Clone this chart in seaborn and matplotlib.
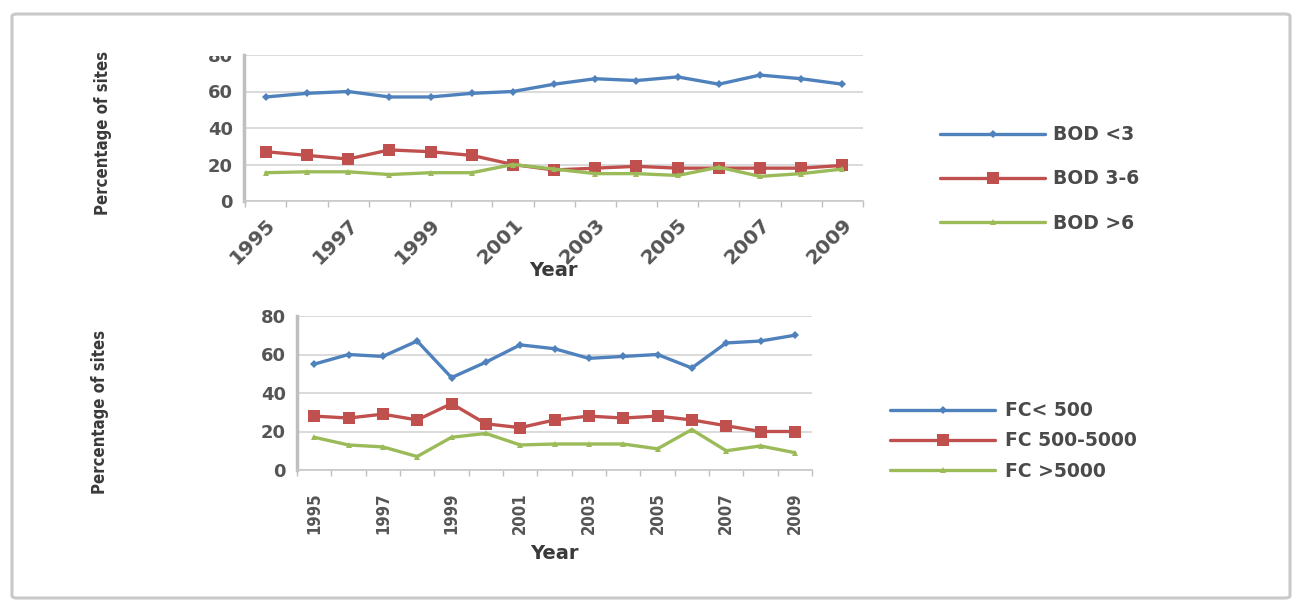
import matplotlib
matplotlib.use("Agg")
import matplotlib.pyplot as plt
from matplotlib import font_manager
from matplotlib.font_manager import FontProperties
from matplotlib.patches import FancyBboxPatch, Rectangle
import pandas as pd
import seaborn as sns

# %% data
years = list(range(1995, 2010))

bod_lt3 = [57, 59, 60, 57, 57, 59, 60, 64, 67, 66, 68, 64, 69, 67, 64]
bod_3_6 = [27, 25, 23, 28, 27, 25, 20, 17, 18, 19, 18, 18, 18, 18, 19.5]
bod_gt6 = [15.5, 16, 16, 14.5, 15.5, 15.5, 20, 17.5, 15, 15, 14, 18.5, 13.5, 15, 17.5]

fc_lt500 = [55, 60, 59, 67, 48, 56, 65, 63, 58, 59, 60, 53, 66, 67, 70]
fc_500_5000 = [28, 27, 29, 26, 34.5, 24, 22, 26, 28, 27, 28, 26, 23, 20, 20]
fc_gt5000 = [17, 13, 12, 7, 17, 19, 13, 13.5, 13.5, 13.5, 11, 21, 10, 12.5, 9]

bod_labels = ["BOD <3", "BOD 3-6", "BOD >6"]
fc_labels = ["FC< 500", "FC 500-5000", "FC >5000"]
y_ticks = [0, 20, 40, 60, 80]

colors = ["#4F81BD", "#C0504D", "#9BBB59"]
markers = ["D", "s", "^"]
marker_sizes = [4, 8, 5]

# %% long tables for seaborn
def long_table(series, labels):
    rows = []
    for vals, lab in zip(series, labels):
        for i, (yr, v) in enumerate(zip(years, vals)):
            rows.append({"pos": i, "year": yr, "value": v, "series": lab})
    return pd.DataFrame(rows)

bod = long_table([bod_lt3, bod_3_6, bod_gt6], bod_labels)
fc = long_table([fc_lt500, fc_500_5000, fc_gt5000], fc_labels)

# %% style
sns.set_theme(style = "white")
plt.rcParams["font.family"] = ["DejaVu Sans"]

# condensed face for the axis titles if one is installed
cond = [f for f in font_manager.fontManager.ttflist
        if ("Condensed" in f.fname or "Narrow" in f.fname) and "Bold" in f.fname
        and "Italic" not in f.fname and "Oblique" not in f.fname]
if cond:
    ylab_fp = FontProperties(fname = cond[0].fname, size = 12)
    xtick_fp = FontProperties(fname = cond[0].fname, size = 12)
else:
    ylab_fp = FontProperties(family = "Liberation Sans", weight = "bold", size = 11)
    xtick_fp = FontProperties(family = "Liberation Sans", weight = "bold", size = 11)

txt = "#3a3a3a"
grid = "#d4d4d4"

W, H = 1296, 606
fig = plt.figure(figsize = (W / 100, H / 100), dpi = 100)
fig.patch.set_facecolor("white")

def ax_box(x0, x1, ytop, ybot):
    return [x0 / W, 1 - ybot / H, (x1 - x0) / W, (ybot - ytop) / H]

ax1 = fig.add_axes(ax_box(244, 863, 55, 201))
ax2 = fig.add_axes(ax_box(297, 812, 316, 470))


def draw(ax, df, labels, xlim, rot):
    pal = dict(zip(labels, colors))
    mk = dict(zip(labels, markers))
    for lab, ms in zip(labels, marker_sizes):
        sub = df[df["series"] == lab]
        sns.lineplot(data = sub, x = "pos", y = "value", color = pal[lab],
                     marker = mk[lab], markersize = ms, markeredgewidth = 0,
                     linewidth = 2.4, label = lab, ax = ax, zorder = 3)
    ax.set_xlim(*xlim)
    ax.set_ylim(0, 80)
    ax.set_yticks(y_ticks)
    ax.set_yticklabels([str(t) for t in y_ticks], fontsize = 13,
                       fontweight = "bold", color = "#555555")
    ax.yaxis.grid(True, color = grid, linewidth = 1.2)
    ax.set_axisbelow(True)
    for s in ["top", "right"]:
        ax.spines[s].set_visible(False)
    ax.spines["left"].set_color("#bfbfbf")
    ax.spines["left"].set_linewidth(2.5)
    ax.spines["bottom"].set_color("#c8c8c8")
    ax.spines["bottom"].set_linewidth(1.2)
    ax.tick_params(axis = "y", length = 0, pad = 8)
    # category ticks between points, odd-year labels only
    pos = list(range(len(years)))[::2]
    ax.set_xticks(pos)
    ax.set_xticks([i - 0.5 for i in range(len(years) + 1)], minor = True)
    ax.tick_params(axis = "x", which = "major", length = 0)
    ax.tick_params(axis = "x", which = "minor", length = 4, color = "#bfbfbf",
                   direction = "out", bottom = True)
    if rot == 45:
        ax.set_xticklabels([str(y) for y in years[::2]], rotation = 45, ha = "right",
                           rotation_mode = "anchor", fontsize = 14.5,
                           fontweight = "bold", color = "#555555")
        ax.tick_params(axis = "x", which = "major", pad = 10)
    else:
        ax.set_xticklabels([str(y) for y in years[::2]], rotation = 90,
                           fontproperties = xtick_fp, color = "#555555")
        ax.tick_params(axis = "x", which = "major", pad = 16)
    ax.set_xlabel("Year", fontsize = 14, fontweight = "bold", color = txt)
    ax.set_ylabel("Percentage of sites", fontproperties = ylab_fp, color = txt)


draw(ax1, bod, bod_labels, (-0.53, 14.31), 45)
draw(ax2, fc, fc_labels, (-0.37, 14.37), 90)

ax1.xaxis.set_label_coords(0.50, -0.41)
ax1.yaxis.set_label_coords(-0.213, 0.466)
ax2.xaxis.set_label_coords(0.50, -0.48)
ax2.yaxis.set_label_coords(-0.366, 0.377)

# legends to the right of each chart
leg1 = ax1.legend(loc = "center left", bbox_to_anchor = (940 / W, 1 - 179 / H),
                  bbox_transform = fig.transFigure, frameon = False,
                  handlelength = 5.6, handletextpad = 0.45, labelspacing = 1.35,
                  borderpad = 0, borderaxespad = 0,
                  prop = {"size": 13.5, "weight": "bold"})
leg2 = ax2.legend(loc = "center left", bbox_to_anchor = (890 / W, 1 - 441 / H),
                  bbox_transform = fig.transFigure, frameon = False,
                  handlelength = 5.6, handletextpad = 0.55, labelspacing = 0.6,
                  borderpad = 0, borderaxespad = 0,
                  prop = {"size": 13.5, "weight": "bold"})
for leg in [leg1, leg2]:
    for t in leg.get_texts():
        t.set_color("#4a4a4a")
    for h in leg.legend_handles:
        h.set_linewidth(2.4)

# outer frame and the clipped top of the first chart
fig.patches.append(FancyBboxPatch((12 / W, 8 / H), 1278 / W, 584 / H,
                                  boxstyle = "round,pad=0,rounding_size=0.004",
                                  transform = fig.transFigure, facecolor = "none",
                                  edgecolor = "#c9c9c9", linewidth = 2.2, zorder = 6))
fig.patches.append(Rectangle((190 / W, 1 - 56 / H), 50 / W, 30 / H,
                             transform = fig.transFigure, facecolor = "white",
                             edgecolor = "none", zorder = 5))

fig.savefig("out.png", dpi = 100)
